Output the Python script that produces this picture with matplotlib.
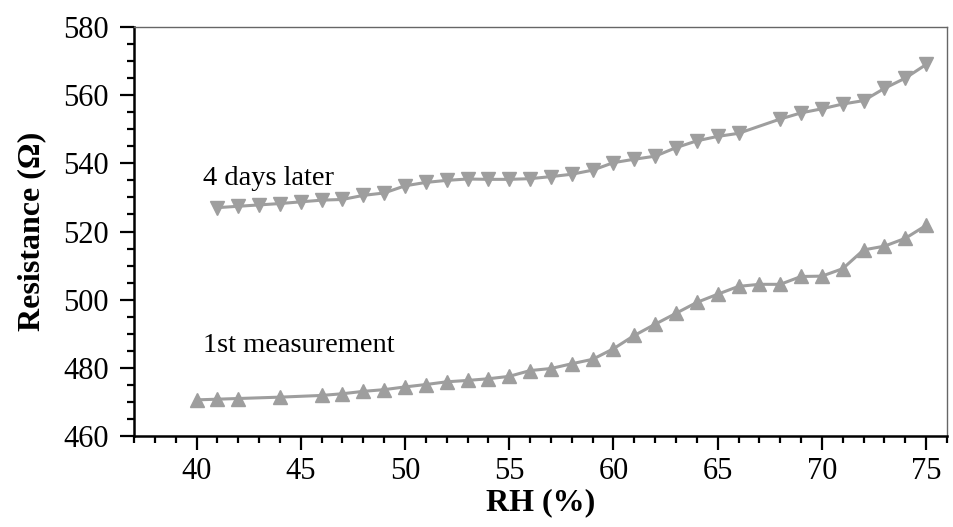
import numpy as np
import matplotlib.pyplot as plt
from matplotlib.ticker import MultipleLocator

# 1st measurement (up triangles)
rh_first = [40, 41, 42, 44, 46, 47, 48, 49, 50, 51, 52, 53, 54, 55, 56, 57, 58, 59,
            60, 61, 62, 63, 64, 65, 66, 67, 68, 69, 70, 71, 72, 73, 74, 75]
res_first = [470.6, 470.8, 471.0, 471.4, 471.9, 472.4, 473.1, 473.6, 474.4, 475.1,
             475.9, 476.3, 476.8, 477.5, 479.2, 479.8, 481.2, 482.5, 485.6, 489.5,
             492.8, 496.0, 499.2, 501.6, 503.9, 504.5, 504.5, 506.8, 506.9, 509.1,
             514.6, 515.7, 518.0, 521.8]

# 4 days later (down triangles)
rh_later = [41, 42, 43, 44, 45, 46, 47, 48, 49, 50, 51, 52, 53, 54, 55, 56, 57, 58,
            59, 60, 61, 62, 63, 64, 65, 66, 68, 69, 70, 71, 72, 73, 74, 75]
res_later = [527.0, 527.4, 527.8, 528.2, 528.7, 529.2, 529.4, 530.6, 531.3, 533.4,
             534.4, 535.0, 535.4, 535.3, 535.3, 535.5, 536.1, 536.8, 538.0, 540.2,
             541.2, 542.1, 544.6, 546.6, 547.9, 548.8, 553.0, 554.8, 556.0, 557.4,
             558.4, 562.0, 565.0, 569.0]

plt.rcParams['font.family'] = ['Liberation Serif', 'DejaVu Serif']
grey = '#9e9e9e'

fig = plt.figure(figsize=(9.54, 5.27), dpi=100)
ax = fig.add_axes([134/954, 1-436/527, (947-134)/954, (436-27)/527])

ax.plot(rh_first, res_first, '-^', color=grey, lw=2.2, ms=10.5, mec=grey)
ax.plot(rh_later, res_later, '-v', color=grey, lw=2.2, ms=10.5, mec=grey)

ax.text(40.3, 533.6, '4 days later', fontsize=20.5, va='baseline')
ax.text(40.3, 484.6, '1st measurement', fontsize=20.5, va='baseline')

ax.set_xlim(37, 76)
ax.set_ylim(460, 580)
ax.xaxis.set_major_locator(MultipleLocator(5))
ax.xaxis.set_minor_locator(MultipleLocator(1))
ax.yaxis.set_major_locator(MultipleLocator(20))
ax.yaxis.set_minor_locator(MultipleLocator(5))
ax.set_xticks([40, 45, 50, 55, 60, 65, 70, 75])
ax.tick_params(which='major', direction='out', length=10, width=1.6, labelsize=22, pad=5)
ax.tick_params(axis='y', which='major', pad=8)
ax.tick_params(which='minor', direction='out', length=5, width=1.6)

for s in ['left', 'bottom']:
    ax.spines[s].set_linewidth(1.8)
for s in ['top', 'right']:
    ax.spines[s].set_linewidth(1)
    ax.spines[s].set_color('#666666')

ax.set_xlabel('RH (%)', fontsize=23, fontweight='bold', labelpad=2)
ax.set_ylabel('Resistance (\u03a9)', fontsize=23, fontweight='bold', labelpad=12)

fig.savefig('out.png', dpi=100)
